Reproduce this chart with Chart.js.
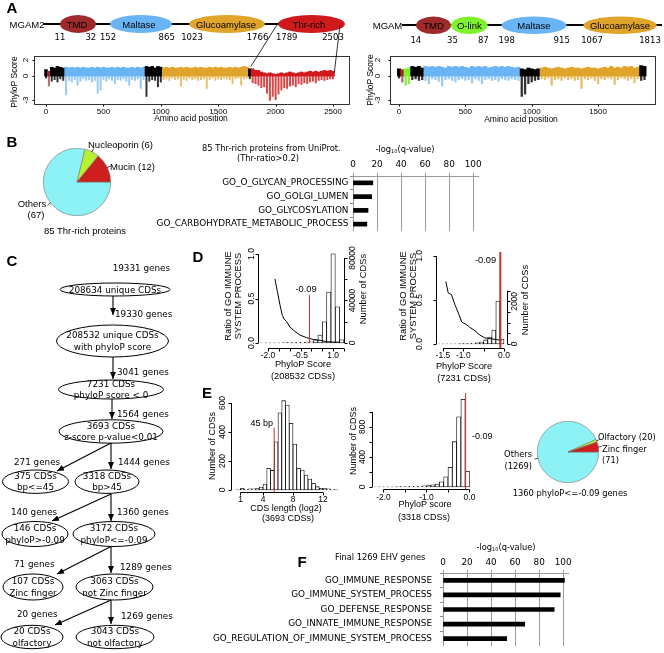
<!DOCTYPE html>
<html><head><meta charset="utf-8">
<script src="https://cdn.jsdelivr.net/npm/chart.js"></script>
<style>
html,body{margin:0;padding:0;background:#fff;}
#fig{position:relative;width:664px;height:653px;background:#fff;overflow:hidden;}
#fig canvas{position:absolute;}
#ov{position:absolute;left:0;top:0;}
</style></head><body><div id="fig"></div>
<script>
// ================= DATA =================
const binWidthAA = 25;
// MGAM2 per-residue phyloP, summarised per 25-aa bin (bin max / bin min)
const mgam2Hi = [0.8,0.6,1.1,1.0,1.2,1.1,1.0,
 1.1,1.0,1.1,1.0,1.1,1.0,1.1,1.0,1.0,1.1,1.0,1.1,1.0,1.1,1.0,1.0,1.1,1.0,1.1,1.0,1.1,1.0,1.0,1.1,1.0,1.1,1.0,1.1,
 1.2,1.1,1.2,1.0,1.2,1.1,
 1.0,1.1,1.0,1.1,1.0,1.0,1.1,1.0,1.1,1.0,1.0,1.1,1.0,1.1,1.0,1.0,1.1,1.0,1.1,1.0,1.1,1.0,1.0,1.1,1.0,1.1,1.0,1.1,1.2,1.1,
 0.9,
 0.9,0.7,0.7,0.5,0.4,0.3,0.4,0.3,0.2,0.3,0.4,0.3,0.4,0.5,0.4,0.3,0.4,0.5,0.4,0.5,0.6,0.5,0.6,0.5,0.6,0.7,0.6,0.7,0.6];
const mgam2Lo = [-0.3,-1.3,-0.7,-0.5,-0.8,-0.4,-0.6,
 -2.4,-0.6,-0.8,-0.5,-1.2,-0.7,-0.4,-0.6,-0.5,-0.8,-0.6,-2.2,-1.8,-0.5,-0.7,-0.4,-0.6,-1.0,-0.5,-0.6,-0.4,-0.7,-1.2,-0.5,-0.6,-0.4,-1.6,-0.5,
 -2.6,-0.7,-0.5,-0.6,-1.4,-0.8,
 -0.5,-0.4,-0.6,-0.3,-0.5,-0.4,-1.3,-0.5,-0.6,-0.3,-0.5,-0.4,-0.6,-0.5,-0.4,-1.6,-0.5,-0.3,-0.6,-0.4,-0.5,-0.3,-0.4,-0.5,-1.0,-0.4,-0.3,-1.2,-0.4,-0.3,
 -0.4,
 -0.9,-1.0,-1.2,-1.5,-1.4,-2.2,-3.1,-2.6,-3.0,-2.3,-1.8,-1.5,-1.6,-1.3,-1.2,-1.4,-1.0,-1.1,-0.9,-1.0,-0.8,-0.7,-0.9,-0.6,-0.5,-0.6,-0.5,-0.4,-0.4];
const mgamHi = [0.9,0.8,0.9,1.0,1.2,1.1,1.2,1.0,
 1.2,1.1,1.2,1.1,1.2,1.1,1.0,1.2,1.1,1.2,1.1,1.2,1.1,1.0,1.2,1.1,1.2,1.1,1.2,1.0,1.1,1.2,1.1,1.2,1.1,1.2,1.1,1.0,1.1,
 0.9,0.8,1.0,0.9,0.8,0.9,
 1.0,1.1,1.0,0.9,1.0,1.1,1.0,0.9,1.0,1.1,1.0,1.0,0.9,1.0,1.1,1.0,1.0,0.9,1.0,1.1,1.0,1.2,1.0,1.1,1.0,1.2,1.1,1.2,1.0,1.1,
 1.3,1.2];
const mgamLo = [-0.3,-0.8,-1.2,-1.0,-0.5,-0.4,-0.6,-0.5,
 -0.6,-1.0,-0.4,-0.5,-0.7,-1.3,-0.5,-0.4,-0.6,-0.8,-0.5,-0.4,-0.6,-0.5,-0.9,-0.4,-0.6,-1.0,-0.5,-0.4,-0.6,-0.5,-0.7,-0.4,-0.5,-0.6,-0.4,-0.5,-0.6,
 -2.6,-2.3,-1.0,-0.8,-0.6,-0.5,
 -0.4,-0.5,-0.3,-1.2,-0.5,-0.4,-0.6,-0.3,-0.5,-0.4,-0.6,-0.5,-1.6,-0.4,-0.5,-0.3,-0.6,-1.0,-0.4,-0.5,-0.3,-0.4,-1.1,-0.5,-0.3,-0.4,-0.6,-0.4,-0.9,-0.4,
 -0.6,-0.5];
const mgam2DomainNames = ['TMD','Maltase','Glucoamylase','Thr-rich'];
const mgam2DomainStart = [11,152,1023,1789];
const mgam2DomainEnd = [32,865,1766,2503];
const mgamDomainNames = ['TMD','O-link','Maltase','Glucoamylase'];
const mgamDomainStart = [14,35,198,1067];
const mgamDomainEnd = [35,87,915,1813];
const aaTicksMgam2 = [0,500,1000,1500,2000,2500];
const aaTicksMgam = [0,500,1000,1500];
const phyloTicks = [2,0,-3];

// B
const pieBLabels = ['Others','Nucleoporin','Mucin'];
const pieBValues = [67,6,12];
const bTerms = ['GO_O_GLYCAN_PROCESSING','GO_GOLGI_LUMEN','GO_GLYCOSYLATION','GO_CARBOHYDRATE_METABOLIC_PROCESS'];
const bValues = [16.5,15.5,12.5,11.5];
const qTicks = [0,20,40,60,80,100];

// D
const dAllBinCenters = [-2.2,-2.0,-1.8,-1.6,-1.4,-1.2,-1.0,-0.8,-0.6,-0.4,-0.2,0.0,0.2,0.4,0.6,0.8,1.0,1.2,1.4];
const dAllCounts = [100,120,150,180,220,280,350,450,560,700,900,1200,3000,7500,20000,48000,84000,34000,3000];
const dAllRatioX = [-1.68,-1.57,-1.45,-1.34,-1.26,-1.14,-0.99,-0.76,-0.53,-0.22,0.09,0.40,0.71,1.01,1.32];
const dAllRatio = [0.72,0.58,0.43,0.31,0.27,0.24,0.18,0.13,0.09,0.06,0.04,0.03,0.015,0.01,0.01];
const dSubBinCenters = [-1.55,-1.45,-1.35,-1.25,-1.15,-1.05,-0.95,-0.85,-0.75,-0.65,-0.55,-0.45,-0.35,-0.25,-0.15,-0.05];
const dSubCounts = [4,5,8,10,12,15,20,25,35,50,90,190,330,657,2020,235];
const dSubRatioX = [-1.43,-1.37,-1.29,-1.20,-1.12,-1.04,-1.00,-0.92,-0.84,-0.71,-0.59,-0.47,-0.34,-0.18,-0.06];
const dSubRatio = [0.71,0.58,0.56,0.44,0.35,0.25,0.24,0.22,0.19,0.15,0.10,0.07,0.06,0.05,0.04];
const phyloCut = -0.09;
const dAllCutTop = 0.54;

// E
const eLenBinCenters = [0.75,1.25,1.75,2.25,2.75,3.25,3.75,4.25,4.75,5.25,5.75,6.25,6.75,7.25,7.75,8.25,8.75,9.25,9.75,10.25,10.75,11.25,11.75,12.25,12.75,13.25,13.75];
const eLenCounts = [5,12,5,8,8,10,20,41,150,135,333,533,616,586,460,317,150,138,103,76,46,23,12,10,8,5,3];
const lenCutLog2 = Math.log2(45);
const lenCutTop = 428;
const ePhyBinCenters = [-2.15,-2.05,-1.95,-1.85,-1.75,-1.65,-1.55,-1.45,-1.35,-1.25,-1.15,-1.05,-0.95,-0.85,-0.75,-0.65,-0.55,-0.45,-0.35,-0.25,-0.15,-0.05];
const ePhyCounts = [1,2,2,3,3,4,5,6,8,10,12,15,20,28,40,70,135,262,604,937,1170,210];
const pieELabels = ['Others','Olfactory','Zinc finger'];
const pieEValues = [1269,20,71];

// F
const fTerms = ['GO_IMMUNE_RESPONSE','GO_IMMUNE_SYSTEM_PROCESS','GO_DEFENSE_RESPONSE','GO_INNATE_IMMUNE_RESPONSE','GO_REGULATION_OF_IMMUNE_SYSTEM_PROCESS'];
const fValues = [101,97.5,92.5,68,53];

// ================= STYLE =================
const domCol = {'TMD':'#9E2A2B','O-link':'#80F22C','Maltase':'#69B4F4','Glucoamylase':'#E0A42A','Thr-rich':'#D0191D'};
const domColA = {'TMD':'rgba(158,42,43,0.7)','O-link':'rgba(110,235,30,0.8)','Maltase':'rgba(105,180,244,0.7)','Glucoamylase':'rgba(224,164,42,0.7)','Thr-rich':'rgba(208,25,29,0.8)'};
const cyan = '#8CF2F6', lime = '#B6F232', red = '#CE1E1E';
const LSF = "'Liberation Sans', Arial, sans-serif";
const DVF = "'DejaVu Sans', sans-serif";

Chart.defaults.font.family = LSF;
Chart.defaults.color = '#000';
Chart.defaults.animation = false;
Chart.defaults.events = [];
Chart.defaults.plugins.legend.display = false;
Chart.defaults.plugins.tooltip.enabled = false;

const fig = document.getElementById('fig');
function cv(x, y, w, h) {
  const c = document.createElement('canvas');
  c.width = w; c.height = h;
  c.style.left = x + 'px'; c.style.top = y + 'px';
  c.style.width = w + 'px'; c.style.height = h + 'px';
  fig.appendChild(c); return c;
}
const fitW = w => s => { s.width = w; s.paddingTop = 0; s.paddingBottom = 0; s.paddingLeft = 0; s.paddingRight = 0; };
const fitH = h => s => { s.height = h; s.paddingTop = 0; s.paddingBottom = 0; s.paddingLeft = 0; s.paddingRight = 0; };
const hid = () => ({ ticks: {display: false}, grid: {display: false}, border: {display: false} });

// R-style axes: line between first/last tick, outward tick marks, labels
const rAxes = { id: 'rAxes', afterDraw(chart) {
  const ctx = chart.ctx, A = chart.chartArea;
  const spec = chart.canvas.rSpec || {};
  for (const id of Object.keys(spec)) {
    const a = spec[id], s = chart.scales[id]; if (!a || !s) continue;
    const pos = s.options.position;
    const vert = pos === 'left' || pos === 'right';
    const dir = (pos === 'left' || pos === 'top') ? -1 : 1;
    const base = pos === 'left' ? A.left : pos === 'right' ? A.right : pos === 'bottom' ? A.bottom : A.top;
    const b = Math.round(base) + (dir < 0 ? -0.5 : 0.5);
    const tl = a.tl ?? 3, off = a.off ?? 8;
    const px = a.ticks.map(v => s.getPixelForValue(v));
    ctx.save(); ctx.strokeStyle = '#000'; ctx.fillStyle = '#000'; ctx.lineWidth = 1;
    ctx.beginPath();
    if (a.line !== false) {
      const p0 = Math.min(...px), p1 = Math.max(...px);
      if (vert) { ctx.moveTo(b, p0); ctx.lineTo(b, p1); } else { ctx.moveTo(p0, b); ctx.lineTo(p1, b); }
    }
    for (const p of px) {
      const q = Math.round(p) + 0.5;
      if (vert) { ctx.moveTo(b, q); ctx.lineTo(b + dir * tl, q); } else { ctx.moveTo(q, b); ctx.lineTo(q, b + dir * tl); }
    }
    ctx.stroke();
    ctx.font = a.font || ("8px " + LSF); ctx.textAlign = 'center'; ctx.textBaseline = 'middle';
    a.ticks.forEach((v, i) => {
      const l = a.labels ? a.labels[i] : String(v); if (!l) return;
      const p = px[i];
      if (vert) { ctx.save(); ctx.translate(b + dir * off, p); ctx.rotate(-Math.PI / 2); ctx.fillText(l, 0, 0); ctx.restore(); }
      else ctx.fillText(l, p, b + dir * off);
    });
    ctx.restore();
  }
  const f = chart.canvas.rFrame;
  if (f) { ctx.save(); ctx.strokeStyle = f; ctx.lineWidth = 1;
    ctx.strokeRect(Math.round(A.left) - 0.5, Math.round(A.top) - 0.5, Math.round(A.right - A.left) + 1, Math.round(A.bottom - A.top) + 1); ctx.restore(); }
}};
const vlineP = { id: 'vlineP', afterDatasetsDraw(chart) {
  const v = chart.canvas.rVline; if (!v) return;
  const ctx = chart.ctx, xs = chart.scales.x, ys = chart.scales[v.axis || 'y'];
  const x = xs.getPixelForValue(v.x);
  const y0 = v.y0 == null ? chart.chartArea.bottom : ys.getPixelForValue(v.y0);
  const y1 = v.y1 == null ? chart.chartArea.top : ys.getPixelForValue(v.y1);
  ctx.save(); ctx.strokeStyle = v.color; ctx.lineWidth = v.w; ctx.beginPath(); ctx.moveTo(x, y0); ctx.lineTo(x, y1); ctx.stroke(); ctx.restore();
}};

function rChart(o) {
  const [L, T, R, B] = o.area;
  const c = cv(o.x, o.y, o.w, o.h);
  c.rSpec = {x: o.xAxis, y: o.yAxis, y2: o.y2Axis};
  c.rFrame = o.frame; c.rVline = o.vline;
  const scales = {
    x: Object.assign(hid(), {type: 'linear', position: 'bottom', min: o.xr[0], max: o.xr[1], offset: false, afterFit: fitH(o.y + o.h - B)}),
    y: Object.assign(hid(), {type: 'linear', position: 'left', min: o.yr[0], max: o.yr[1], afterFit: fitW(L - o.x)})
  };
  let padR = o.x + o.w - R;
  if (o.y2r) { scales.y2 = Object.assign(hid(), {type: 'linear', position: 'right', min: o.y2r[0], max: o.y2r[1], afterFit: fitW(padR)}); padR = 0; }
  return new Chart(c, {type: 'bar', data: {datasets: o.datasets},
    options: {responsive: false, maintainAspectRatio: false, devicePixelRatio: 1,
      layout: {padding: {left: 0, top: T - o.y, right: padR, bottom: 0}}, scales},
    plugins: [rAxes, vlineP]});
}

function domColor(p, names, st, en, map) {
  for (let i = 0; i < names.length; i++) if (p >= st[i] && p < en[i]) return map[names[i]];
  return map === domColA ? 'rgba(0,0,0,0.8)' : '#000';
}
function traceSets(hi, lo, names, st, en) {
  const pos = hi.map((v, i) => i * binWidthAA);
  return [
    {type: 'bar', data: pos.map((p, i) => ({x: p, y: hi[i]})), backgroundColor: pos.map(p => domColor(p, names, st, en, domCol)),
     borderWidth: 0, barPercentage: 1, categoryPercentage: 1, grouped: false},
    {type: 'bar', data: pos.map((p, i) => ({x: p, y: lo[i]})), backgroundColor: pos.map(p => domColor(p, names, st, en, domColA)),
     borderWidth: 0, barPercentage: 0.7, categoryPercentage: 1, grouped: false}
  ];
}
const histSet = (xs, ys, axis) => ({type: 'bar', yAxisID: axis, data: xs.map((x, i) => ({x, y: ys[i]})),
  backgroundColor: '#fff', borderColor: '#000', borderWidth: 0.8, borderSkipped: false, barPercentage: 1, categoryPercentage: 1});
const lineSet = (xs, ys) => ({type: 'line', yAxisID: 'y', data: xs.map((x, i) => ({x, y: ys[i]})),
  borderColor: '#000', borderWidth: 1, pointRadius: 0, tension: 0, fill: false});

// ---------- A traces ----------
const aFont = "8px " + LSF;
rChart({x: 0, y: 50, w: 352, h: 68, area: [35, 57, 349, 104], xr: [-95.8, 2639], yr: [-3.5, 2.375],
  datasets: traceSets(mgam2Hi, mgam2Lo, mgam2DomainNames, mgam2DomainStart, mgam2DomainEnd), frame: '#333',
  xAxis: {ticks: aaTicksMgam2, line: false, tl: 2, off: 7, font: aFont},
  yAxis: {ticks: phyloTicks, line: false, tl: 2, off: 8.5, font: aFont}});
rChart({x: 358, y: 50, w: 302, h: 68, area: [391, 57, 655, 104], xr: [-60.3, 1929], yr: [-3.5, 2.375],
  datasets: traceSets(mgamHi, mgamLo, mgamDomainNames, mgamDomainStart, mgamDomainEnd), frame: '#333',
  xAxis: {ticks: aaTicksMgam, line: false, tl: 2, off: 7, font: aFont},
  yAxis: {ticks: phyloTicks, line: false, tl: 2, off: 13, font: aFont}});

// ---------- D ----------
const dFont = "8.5px " + LSF;
rChart({x: 240, y: 244, w: 124, h: 118, area: [259, 250, 344, 348], xr: [-2.415, 1.502], yr: [-0.056, 1.045], y2r: [-4706, 87529],
  datasets: [lineSet(dAllRatioX, dAllRatio), histSet(dAllBinCenters, dAllCounts, 'y2')],
  vline: {x: phyloCut, y0: 0, y1: dAllCutTop, color: '#D02A2A', w: 1},
  xAxis: {ticks: [-2, -1.5, -1, -0.5, 0, 0.5, 1, 1.5], labels: ['-2.0', '', '', '-0.5', '', '', '1.0', ''], off: 7, font: dFont},
  yAxis: {ticks: [0, 0.5, 1], labels: ['0.0', '0.5', '1.0'], off: 7, font: dFont},
  y2Axis: {ticks: [0, 20000, 40000, 60000, 80000], labels: ['0', '', '40000', '', '80000'], off: 8, font: dFont}});
rChart({x: 405, y: 246, w: 116, h: 116, area: [437, 252, 507, 348], xr: [-1.646, 0.074], yr: [-0.0455, 1.045], y2r: [-188, 4319],
  datasets: [lineSet(dSubRatioX, dSubRatio), histSet(dSubBinCenters, dSubCounts, 'y2')],
  vline: {x: phyloCut, color: '#D02A2A', w: 2},
  xAxis: {ticks: [-1.5, -1, -0.5, 0], labels: ['-1.5', '-1.0', '', '0.0'], off: 7, font: dFont},
  yAxis: {ticks: [0, 0.5, 1], labels: ['0.0', '0.5', '1.0'], off: 17, font: dFont},
  y2Axis: {ticks: [0, 500, 1000, 1500, 2000, 2500], labels: ['0', '', '', '', '2000', ''], off: 7, font: dFont}});

// ---------- E ----------
rChart({x: 215, y: 394, w: 127, h: 112, area: [232, 400, 338, 492], xr: [-0.133, 14.0], yr: [-13.8, 620.7],
  datasets: [histSet(eLenBinCenters, eLenCounts, 'y')],
  vline: {x: lenCutLog2, y0: null, y1: lenCutTop, color: '#D02A2A', w: 1},
  xAxis: {ticks: [1, 4, 8, 12], off: 7, font: dFont},
  yAxis: {ticks: [0, 200, 400, 600], off: 9, font: dFont}});
rChart({x: 355, y: 387, w: 123, h: 116, area: [373, 393, 474, 489], xr: [-2.244, 0.105], yr: [-26.7, 1253],
  datasets: [histSet(ePhyBinCenters, ePhyCounts, 'y')],
  vline: {x: phyloCut, color: '#D02A2A', w: 1},
  xAxis: {ticks: [-2, -1.5, -1, -0.5, 0], labels: ['-2.0', '', '-1.0', '', '0.0'], off: 8, font: dFont},
  yAxis: {ticks: [0, 200, 400, 600, 800, 1000], labels: ['0', '', '400', '', '800', ''], off: 10, font: dFont}});

// ---------- pies ----------
function pie(x, y, s, labels, values, colors) {
  new Chart(cv(x, y, s, s), {type: 'pie', data: {labels, datasets: [{data: values, backgroundColor: colors, borderColor: '#777', borderWidth: 0.6}]},
    options: {responsive: false, maintainAspectRatio: false, devicePixelRatio: 1, rotation: 90, layout: {padding: 0}}});
}
pie(43, 148, 68, pieBLabels, pieBValues, [cyan, lime, red]);
pie(537, 421, 62, pieELabels, pieEValues, [cyan, lime, red]);

// ---------- GO bar charts ----------
function goBars(x, y, w, h, yW, xH, terms, vals, lpad, xpad) {
  new Chart(cv(x, y, w, h), {type: 'bar', data: {labels: terms, datasets: [{data: vals, backgroundColor: '#000', barThickness: 4}]},
    options: {indexAxis: 'y', responsive: false, maintainAspectRatio: false, devicePixelRatio: 1,
      layout: {padding: {left: 0, top: 0, right: 8, bottom: 0}},
      scales: {
        x: {type: 'linear', position: 'top', min: 0, max: 104, afterBuildTicks: s => { s.ticks = qTicks.map(v => ({value: v})); },
            ticks: {font: {family: DVF, size: 8.9}, color: '#000', padding: xpad, maxRotation: 0, autoSkip: false},
            grid: {color: '#9a9a9a', lineWidth: 1, tickLength: 3}, border: {color: '#9a9a9a'}, afterFit: fitH(xH)},
        y: {ticks: {font: {family: DVF, size: 8.9}, color: '#000', padding: lpad, autoSkip: false},
            grid: {drawOnChartArea: false, offset: true, tickLength: 3, color: '#888'}, border: {display: false}, afterFit: fitW(yW)}
      }}});
}
goBars(140, 150, 346, 81, 213, 26, bTerms, bValues, 1.5, 3);
goBars(205, 550, 371, 96, 238, 23, fTerms, fValues, 8, 2);

// ================= SVG overlay (diagrams, flowchart, titles) =================
const svg = [];
const esc = s => String(s).replace(/&/g, '&amp;').replace(/</g, '&lt;').replace(/>/g, '&gt;');
function T(x, y, s, o = {}) {
  const fam = o.dv ? 'DejaVu Sans, sans-serif' : 'Liberation Sans, Arial, sans-serif';
  svg.push(`<text x="${x}" y="${y}" font-family="${fam}" font-size="${o.s || 9}" text-anchor="${o.a || 'middle'}" dominant-baseline="central"${o.b ? ' font-weight="bold"' : ''}${o.r ? ` transform="rotate(-90 ${x} ${y})"` : ''}>${esc(s)}</text>`);
}
function Ln(x1, y1, x2, y2, o = {}) {
  svg.push(`<line x1="${x1}" y1="${y1}" x2="${x2}" y2="${y2}" stroke="${o.c || '#000'}" stroke-width="${o.w || 1}"${o.m ? ' marker-end="url(#ah)"' : ''}/>`);
}
function El(cx, cy, rx, ry, fill, stroke, sw) {
  svg.push(`<ellipse cx="${cx}" cy="${cy}" rx="${rx}" ry="${ry}" fill="${fill}" stroke="${stroke || 'none'}" stroke-width="${sw || 1}"/>`);
}

// panel letters
[['A', 12, 7], ['B', 12, 141], ['C', 12, 260], ['D', 198, 256], ['E', 207, 392], ['F', 302, 561]].forEach(([l, x, y]) => T(x, y, l, {s: 15, b: 1}));

// A: domain diagrams
T(27, 24, 'MGAM2', {s: 9.5});
Ln(43, 24, 280, 24, {w: 1.8});
const m2Ell = [[78, 24, 18, 9], [141, 24, 31, 9], [227, 24, 38, 9], [311.5, 24, 33.5, 9]];
const m2TxtX = [77, 139, 226, 309];
m2Ell.forEach((e, i) => { El(e[0], e[1], e[2], e[3], domCol[mgam2DomainNames[i]]); T(m2TxtX[i], 24, mgam2DomainNames[i], {s: 9.5}); });
const m2NumX = [60, 90.8, 108, 166.7, 192, 257.5, 286.7, 333];
m2NumX.forEach((x, i) => T(x, 37, (i % 2 ? mgam2DomainEnd : mgam2DomainStart)[i >> 1], {s: 8.5, dv: 1}));
T(387.5, 25.5, 'MGAM', {s: 9.5});
Ln(402, 25, 662, 25, {w: 1.8});
const mEll = [[433.5, 25.3, 17.5, 8.7], [469.3, 25.3, 18.3, 8.7], [534, 25.3, 32.5, 8.7], [620, 25.3, 36.7, 8.7]];
mEll.forEach((e, i) => { El(e[0], e[1], e[2], e[3], domCol[mgamDomainNames[i]]); T(e[0], 25.3, mgamDomainNames[i], {s: 9.5}); });
const mNum = [[415.8, mgamDomainStart[0]], [452.5, mgamDomainEnd[0]], [483.3, mgamDomainEnd[1]], [506.7, mgamDomainStart[2]], [561.7, mgamDomainEnd[2]], [592, mgamDomainStart[3]], [650, mgamDomainEnd[3]]];
mNum.forEach(([x, v]) => T(x, 40, v, {s: 8.5, dv: 1}));
Ln(278.3, 22.7, 250.7, 66.7, {w: 0.8});
Ln(340, 25, 334.3, 72.7, {w: 0.8});
T(14, 82, 'PhyloP Score', {r: 1, s: 8.5});
T(370, 80, 'PhyloP Score', {r: 1, s: 8.5});
T(191, 118, 'Amino acid position', {s: 8.5});
T(521, 119, 'Amino acid position', {s: 8.5});

// B texts
function pieLeaders(cx, cy, r, values) {
  const tot = values.reduce((a, b) => a + b, 0); let cum = 0;
  [...values].reverse().forEach(v => { const m = (cum + v / 2) / tot * 2 * Math.PI; cum += v;
    Ln(cx + r * Math.cos(m), cy - r * Math.sin(m), cx + r * 1.12 * Math.cos(m), cy - r * 1.12 * Math.sin(m), {w: 0.7}); });
}
pieLeaders(77, 182, 33.5, pieBValues);
T(88, 144, 'Nucleoporin (6)', {a: 'start', s: 9.5});
T(110, 166, 'Mucin (12)', {a: 'start', s: 9.5});
T(32, 203, 'Others', {s: 9.5});
T(36, 214, '(67)', {s: 9.5});
T(85, 230, '85 Thr-rich proteins', {s: 9.5});
T(202, 148, '85 Thr-rich proteins from UniProt.', {a: 'start', s: 8.3, dv: 1});
T(268, 158, '(Thr-ratio>0.2)', {s: 8.3, dv: 1});
svg.push(`<text x="405" y="149" font-family="DejaVu Sans, sans-serif" font-size="8.3" text-anchor="middle" dominant-baseline="central">-log<tspan font-size="5" dy="2">10</tspan><tspan dy="-2">(q-value)</tspan></text>`);

// C flowchart
const flow = [
  [115, 289.5, 55, 6.5, ['208634 unique CDSs']],
  [112.5, 341, 56, 16, ['208532 unique CDSs', 'with phyloP score']],
  [111, 389.5, 52.5, 9.5, ['7231 CDSs', 'phyloP score < 0']],
  [111, 431.5, 52, 11.7, ['3693 CDSs', 'z-score p-value<0.01']],
  [35.5, 481.7, 33, 11.7, ['375 CDSs', 'bp<=45']],
  [107, 481.7, 32, 11.7, ['3318 CDSs', 'bp>45']],
  [35, 534, 33, 12.5, ['146 CDSs', 'phyloP>-0.09']],
  [114, 534, 41, 12.5, ['3172 CDSs', 'phyloP<=-0.09']],
  [33, 587, 30, 13, ['107 CDSs', 'Zinc finger']],
  [114.5, 587, 38.5, 13, ['3063 CDSs', 'not Zinc finger']],
  [32, 637, 31, 11.7, ['20 CDSs', 'olfactory']],
  [115, 637, 39, 11.7, ['3043 CDSs', 'not olfactory']]
];
flow.forEach(([cx, cy, rx, ry, lines]) => {
  El(cx, cy, rx, ry, '#fff', '#000', 1);
  if (lines.length === 1) T(cx, cy, lines[0], {s: 8.8, dv: 1});
  else { const d = ry > 14 ? 6 : 5.6; T(cx, cy - d, lines[0], {s: 8.8, dv: 1}); T(cx, cy + d, lines[1], {s: 8.8, dv: 1}); }
});
const arrows = [[113, 296, 113, 315], [113, 357, 113, 379], [112, 399, 112, 419],
  [111, 443, 111, 469], [111, 443, 57, 471], [111, 494, 111, 521], [111, 494, 52, 521],
  [111, 546.5, 111, 573], [111, 546.5, 57, 574], [111, 600, 111, 624], [111, 600, 55, 625]];
arrows.forEach(a => Ln(a[0], a[1], a[2], a[3], {w: 1.1, m: 1}));
const genes = [[170, 268, '19331 genes', 'end'], [115, 314, '19330 genes'], [117, 372, '3041 genes'], [117, 414, '1564 genes'],
  [14, 462, '271 genes'], [118, 462, '1444 genes'], [11, 512, '140 genes'], [117, 512, '1360 genes'],
  [14, 564, '71 genes'], [120, 566.5, '1289 genes'], [17, 614, '20 genes'], [121, 616, '1269 genes']];
genes.forEach(g => T(g[0], g[1], g[2], {a: g[3] || 'start', s: 8.8, dv: 1}));

// D texts
T(228, 296, 'Ratio of GO IMMUNE', {r: 1, s: 9.3});
T(238, 296, 'SYSTEM PROCESS', {r: 1, s: 9.3});
T(363, 289, 'Number of CDSs', {r: 1, s: 9.3});
T(303, 364, 'PhyloP Score', {s: 9.3});
T(303, 376, '(208532 CDSs)', {s: 9.3});
T(306, 289, '-0.09', {s: 9.3});
T(403, 296, 'Ratio of GO IMMUNE', {r: 1, s: 9.3});
T(413, 296, 'SYSTEM PROCESS', {r: 1, s: 9.3});
T(525, 300, 'Number of CDSs', {r: 1, s: 9.3});
T(464, 366, 'PhyloP Score', {s: 9.3});
T(464, 378, '(7231 CDSs)', {s: 9.3});
T(485.5, 260, '-0.09', {s: 9.3});

// E texts
T(212, 446, 'Number of CDSs', {r: 1, s: 9});
T(286, 508, 'CDS length (log2)', {s: 9});
T(288, 518, '(3693 CDSs)', {s: 9});
T(273, 423, '45 bp', {a: 'end', s: 9});
T(353, 441, 'Number of CDSs', {r: 1, s: 9});
T(425, 504, 'PhyloP score', {s: 9});
T(424, 517, '(3318 CDSs)', {s: 9});
T(472, 436, '-0.09', {a: 'start', s: 9});
pieLeaders(568, 452, 30.5, pieEValues);
T(598, 437, 'Olfactory (20)', {a: 'start', s: 8.3, dv: 1});
T(602, 449, 'Zinc finger', {a: 'start', s: 8.3, dv: 1});
T(602, 460, '(71)', {a: 'start', s: 8.3, dv: 1});
T(532, 454, 'Others', {a: 'end', s: 8.3, dv: 1});
T(532, 466, '(1269)', {a: 'end', s: 8.3, dv: 1});
T(570, 493, '1360 phyloP<=-0.09 genes', {s: 8.3, dv: 1});

// F texts
T(335, 557, 'Final 1269 EHV genes', {a: 'start', s: 8.3, dv: 1});
svg.push(`<text x="506" y="547" font-family="DejaVu Sans, sans-serif" font-size="8.3" text-anchor="middle" dominant-baseline="central">-log<tspan font-size="5" dy="2">10</tspan><tspan dy="-2">(q-value)</tspan></text>`);

const ov = document.createElement('div');
ov.innerHTML = `<svg id="ov" xmlns="http://www.w3.org/2000/svg" width="664" height="653" viewBox="0 0 664 653">
<defs><marker id="ah" markerUnits="userSpaceOnUse" markerWidth="7" markerHeight="6" refX="7" refY="3" orient="auto"><path d="M0,0 L7,3 L0,6 z" fill="#000"/></marker></defs>
${svg.join('\n')}</svg>`;
fig.appendChild(ov.firstElementChild);
</script></body></html>
